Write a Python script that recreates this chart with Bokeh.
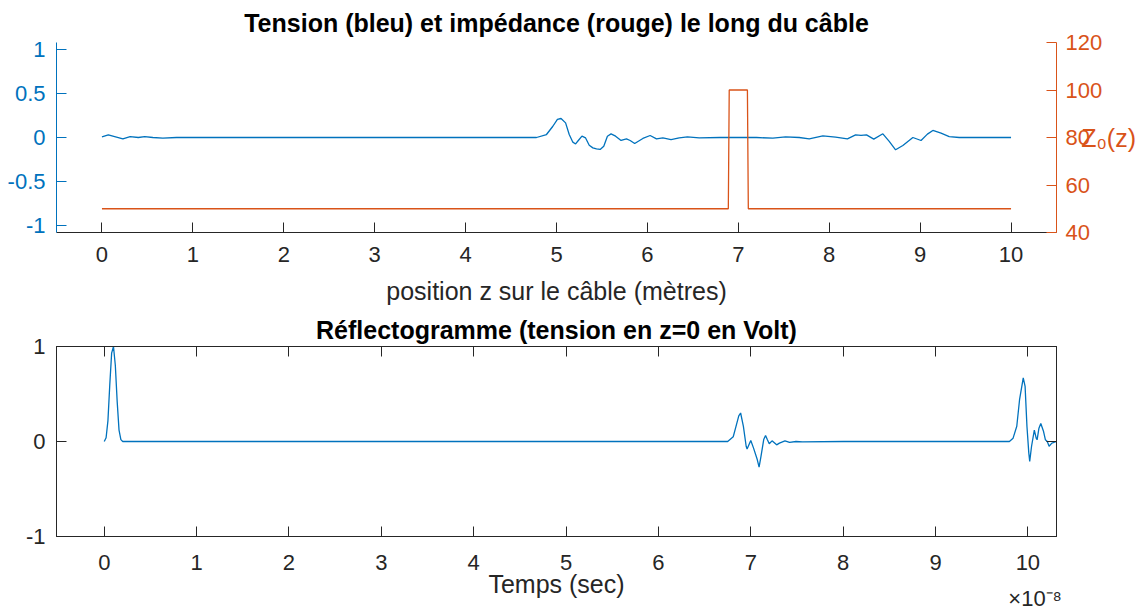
from bokeh.plotting import figure
from bokeh.models import Range1d, LinearAxis, FixedTicker, CustomJSTickFormatter, Title
from bokeh.layouts import column
from bokeh.embed import file_html
from bokeh.resources import INLINE

# ---------------- data ----------------
z_tension = [0.00, 0.07, 0.14, 0.23, 0.31, 0.40, 0.47, 0.56, 0.67, 0.82,
             1.00, 2.00, 3.00, 4.00,
             4.78, 4.89, 4.96, 5.01, 5.05, 5.10, 5.14, 5.18, 5.21, 5.24,
             5.28, 5.32, 5.36, 5.40, 5.44, 5.48, 5.52, 5.56, 5.60, 5.65,
             5.71, 5.77, 5.81, 5.86, 5.95, 6.03, 6.10, 6.17, 6.26, 6.35,
             6.44, 6.57, 6.80, 7.00, 7.20, 7.38, 7.52, 7.67, 7.78, 7.93,
             8.07, 8.20, 8.29, 8.35, 8.41, 8.49, 8.59, 8.66, 8.73, 8.81,
             8.92, 9.01, 9.08, 9.14, 9.23, 9.32, 9.43, 9.60, 10.00]
v_tension = [0.006, 0.030, 0.011, -0.015, 0.011, 0.000, 0.011, 0.000, -0.006, 0.000,
             0.000, 0.000, 0.000, 0.000,
             0.000, 0.034, 0.128, 0.205, 0.216, 0.166, 0.034, -0.053, -0.073, -0.034,
             0.015, -0.005, -0.088, -0.118, -0.130, -0.136, -0.099, 0.015, 0.041, 0.015,
             -0.034, -0.016, -0.034, -0.068, -0.011, 0.023, -0.016, -0.005, -0.023, -0.005,
             0.007, -0.005, 0.000, 0.000, 0.000, -0.008, 0.008, 0.000, -0.015, 0.019,
             0.004, -0.015, 0.030, 0.023, 0.030, -0.019, 0.042, -0.045, -0.140, -0.091,
             0.000, -0.034, 0.038, 0.080, 0.049, 0.011, 0.000, 0.000, 0.000]

z_impedance = [0.0, 6.89, 6.90, 7.10, 7.11, 10.0]
Z0_impedance = [50, 50, 100, 100, 50, 50]

# time in units of 1e-8 s
t_refl = [0.00, 0.02, 0.04, 0.06, 0.08, 0.10, 0.12, 0.14, 0.16, 0.18, 0.20,
          1.0, 3.0, 5.0, 6.00,
          6.75, 6.81, 6.84, 6.87, 6.89, 6.92, 6.95, 6.96, 7.00, 7.03,
          7.07, 7.09, 7.11, 7.14, 7.16, 7.18, 7.20, 7.23, 7.28, 7.31,
          7.37, 7.42, 7.49, 7.56, 8.0, 9.0,
          9.80, 9.84, 9.88, 9.91, 9.95, 9.97, 9.99, 10.01, 10.02, 10.04,
          10.07, 10.09, 10.10, 10.12, 10.14, 10.17, 10.19, 10.21, 10.23, 10.26,
          10.31]
v_refl = [0.0, 0.04, 0.22, 0.60, 0.93, 1.0, 0.80, 0.42, 0.12, 0.02, 0.0,
          0.0, 0.0, 0.0, 0.0,
          0.0, 0.05, 0.16, 0.27, 0.30, 0.16, -0.05, -0.08, 0.01, -0.07,
          -0.19, -0.27, -0.16, 0.02, 0.063, 0.018, -0.024, 0.007, -0.035, -0.017,
          0.007, -0.01, 0.0, -0.003, 0.0, 0.0,
          0.0, 0.035, 0.16, 0.44, 0.67, 0.58, 0.16, -0.12, -0.21, -0.05,
          0.12, 0.035, 0.018, 0.14, 0.19, 0.105, 0.018, 0.0, -0.05, -0.017,
          0.0]

x_ticks = [0, 1, 2, 3, 4, 5, 6, 7, 8, 9, 10]
left_ticks_top = [-1, -0.5, 0, 0.5, 1]
left_labels_top = {-1: "-1", -0.5: "-0.5", 0: "0", 0.5: "0.5", 1: "1"}
right_ticks_top = [40, 60, 80, 100, 120]
left_ticks_bot = [-1, 0, 1]
left_labels_bot = {-1: "-1", 0: "0", 1: "1"}

# ---------------- style ----------------
FONT = "Liberation Sans"
AX = "#262626"
BLUE = "#0072BD"
ORANGE = "#D95319"
TICK_FS = "22px"
LAB_FS = "25px"

AXIS_PROPS = LinearAxis.properties()
HAS_ORIENT = "axis_label_orientation" in AXIS_PROPS
HAS_ALIGN = "axis_label_align" in AXIS_PROPS


def style_axis(ax, color, standoff):
    ax.axis_line_color = color
    ax.major_tick_line_color = color
    ax.minor_tick_line_color = None
    ax.major_tick_in = 10
    ax.major_tick_out = 0
    ax.minor_tick_in = 0
    ax.minor_tick_out = 0
    ax.major_label_text_color = color
    ax.major_label_text_font = FONT
    ax.major_label_text_font_size = TICK_FS
    ax.major_label_standoff = standoff
    ax.axis_label_text_font = FONT
    ax.axis_label_text_font_size = LAB_FS
    ax.axis_label_text_font_style = "normal"
    ax.axis_label_text_color = color


# ---------------- top plot ----------------
p1 = figure(frame_width=1000, frame_height=190, x_range=Range1d(-0.5, 10.5), y_range=Range1d(-1.08, 1.08),
            output_backend="svg", toolbar_location=None,
            min_border_left=56, min_border_right=75, min_border_top=34, min_border_bottom=79)
p1.extra_y_ranges = {"z0": Range1d(40, 120)}
p1.outline_line_color = None
p1.xgrid.visible = False
p1.ygrid.visible = False

p1.title.text = "Tension (bleu) et impédance (rouge) le long du câble"
p1.title.align = "center"
p1.title.text_font = FONT
p1.title.text_font_size = LAB_FS
p1.title.text_font_style = "bold"
p1.title.text_color = "#000000"
p1.title.standoff = 12

xa = p1.xaxis[0]
xa.ticker = FixedTicker(ticks=x_ticks)
style_axis(xa, AX, 14)
xa.axis_label = "position z sur le câble (mètres)"
xa.axis_label_standoff = 12

ya = p1.yaxis[0]
ya.ticker = FixedTicker(ticks=left_ticks_top)
ya.major_label_overrides = left_labels_top
style_axis(ya, BLUE, 11)

ra = LinearAxis(y_range_name="z0", ticker=FixedTicker(ticks=right_ticks_top))
style_axis(ra, ORANGE, 9)
ra.axis_label = "Z\u2080(z)"
if HAS_ORIENT:
    ra.axis_label_orientation = "horizontal"
    ra.axis_label_standoff = -24
else:
    ra.axis_label_standoff = 2
p1.add_layout(ra, "right")

p1.line(z_tension, v_tension, line_color=BLUE, line_width=1.3)
p1.line(z_impedance, Z0_impedance, y_range_name="z0", line_color=ORANGE, line_width=1.3)

# ---------------- bottom plot ----------------
p2 = figure(frame_width=1000, frame_height=190, x_range=Range1d(-0.517, 10.31), y_range=Range1d(-1, 1),
            output_backend="svg", toolbar_location=None,
            min_border_left=56, min_border_right=75, min_border_top=30, min_border_bottom=60)
p2.outline_line_color = AX
p2.outline_line_width = 1
p2.xgrid.visible = False
p2.ygrid.visible = False

p2.title.text = "Réflectogramme (tension en z=0 en Volt)"
p2.title.align = "center"
p2.title.text_font = FONT
p2.title.text_font_size = LAB_FS
p2.title.text_font_style = "bold"
p2.title.text_color = "#000000"
p2.title.standoff = 5

xb = p2.xaxis[0]
xb.ticker = FixedTicker(ticks=x_ticks)
style_axis(xb, AX, 18)
xb.axis_label = "Temps (sec)"
xb.axis_label_standoff = -3

yb = p2.yaxis[0]
yb.ticker = FixedTicker(ticks=left_ticks_bot)
yb.major_label_overrides = left_labels_bot
style_axis(yb, AX, 11)

blank = CustomJSTickFormatter(code="return ''")
top_ax = LinearAxis(ticker=FixedTicker(ticks=x_ticks), formatter=blank)
style_axis(top_ax, AX, 0)
top_ax.major_label_text_font_size = "1px"
p2.add_layout(top_ax, "above")
right_ax = LinearAxis(ticker=FixedTicker(ticks=left_ticks_bot), formatter=blank)
style_axis(right_ax, AX, 0)
right_ax.major_label_text_font_size = "1px"
p2.add_layout(right_ax, "right")

# exponent "x10^-8" written under the right end of the time axis
exp_text = "\u00d710\u207b\u2078" + "\u00a0" * 7
if HAS_ALIGN:
    exp_ax = LinearAxis(ticker=FixedTicker(ticks=[]), formatter=blank)
    style_axis(exp_ax, AX, 0)
    exp_ax.axis_line_color = None
    exp_ax.major_label_text_font_size = "1px"
    exp_ax.axis_label = exp_text
    exp_ax.axis_label_text_font_size = "22px"
    exp_ax.axis_label_align = "end"
    exp_ax.axis_label_standoff = -15
    p2.add_layout(exp_ax, "below")
else:
    p2.add_layout(Title(text=exp_text, align="right", text_font=FONT, text_font_size="22px",
                        text_font_style="normal", text_color=AX, standoff=0), "below")

p2.line(t_refl, v_refl, line_color=BLUE, line_width=1.3)

layout = column(p1, p2)
open("out.html", "w").write(file_html(layout, INLINE))
